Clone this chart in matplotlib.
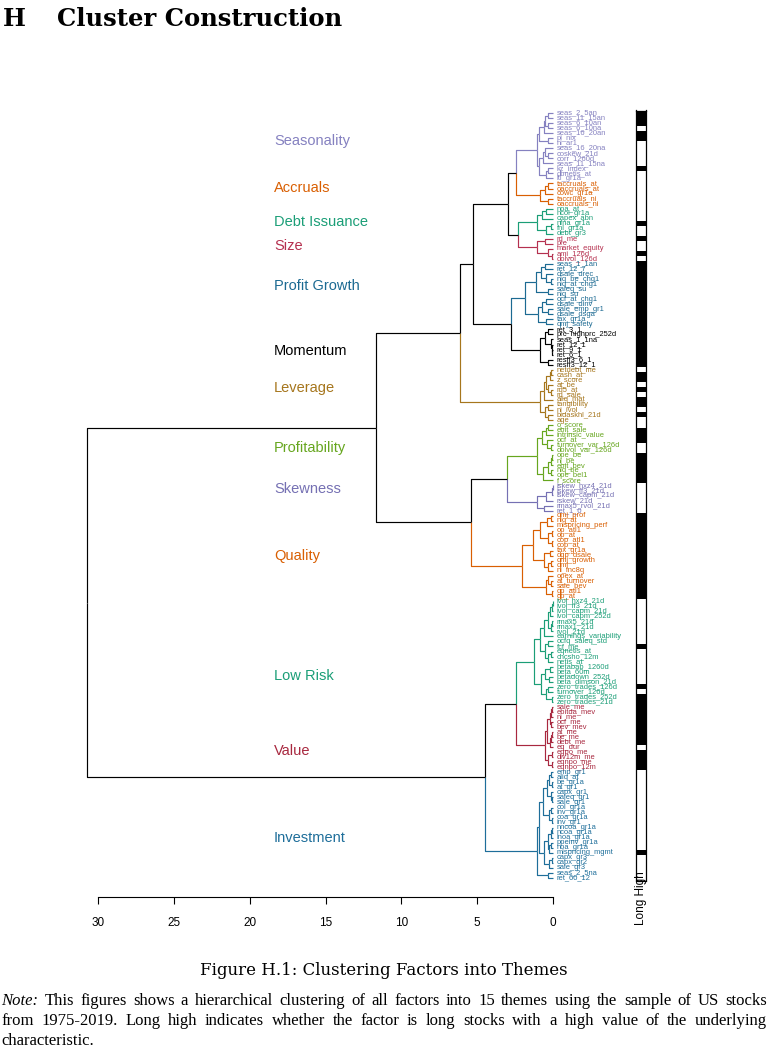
import matplotlib
matplotlib.use("Agg")
import matplotlib.pyplot as plt

plt.rcParams["font.family"] = ["Liberation Sans", "DejaVu Sans"]

# themes, in the order they appear top to bottom
themes = ["Seasonality", "Accruals", "Debt Issuance", "Size", "Profit Growth", "Momentum",
          "Leverage", "Profitability", "Skewness", "Quality", "Low Risk", "Value", "Investment"]
theme_colors = ["#8581c0", "#d95f02", "#1b9e77", "#b5304f", "#1c6a92", "#000000",
                "#a6761d", "#66a61e", "#7570b3", "#d95f02", "#1b9e77", "#a8283f", "#1e6e9a"]

# cluster trees: (merge height, upper, lower), leaves are factor names
seasonality = (1.05,
               (0.95, (0.6, (0.5, (0.35, "seas_2_5an", "seas_11_15an"), (0.3, "seas_6_10an", "seas_6_10na")), "seas_16_20an"),
                (0.35, "pi_nix", "ni_ar1")),
               (0.9, (0.65, (0.55, "seas_16_20na", (0.3, "coskew_21d", "corr_1260d")), "seas_11_15na"),
                (0.45, (0.3, "kz_index", "dbnetis_at"), "lti_gr1a")))
accruals = (0.85, (0.5, (0.3, "taccruals_at", "oaccruals_at"), "cowc_gr1a"), (0.35, "taccruals_ni", "oaccruals_ni"))
debt_issuance = (1.05, (0.7, (0.45, "noa_at", "ncol_gr1a"), "capex_abn"),
                 (0.45, (0.15, "nfna_gr1a", "fnl_gr1a"), "debt_gr3"))
size = (1.05, (0.55, "rd_me", "prc"), (0.3, "market_equity", (0.08, "ami_126d", "dolvol_126d")))
profit_growth = (1.85,
                 (1.1, (0.8, (0.55, "seas_1_1an", "ret_12_7"), (0.45, "dsale_drec", (0.1, "niq_be_chg1", "niq_at_chg1"))),
                  (0.3, "saleq_su", "niq_su")),
                 (1.0, (0.7, (0.45, "ocf_at_chg1", "dsale_dinv"), (0.35, "sale_emp_gr1", "dsale_dsga")),
                  (0.45, "tax_gr1a", "qmj_safety")))
momentum = (0.85,
            (0.55, (0.35, "ret_3_1", "prc_highprc_252d"),
             (0.15, "seas_1_1na", (0.08, "ret_12_1", (0.04, "ret_9_1", "ret_6_1")))),
            (0.35, "resff3_6_1", "resff3_12_1"))
leverage = (0.85,
            (0.6, (0.45, (0.2, (0.1, "netdebt_me", "cash_at"), "z_score"), (0.3, "at_be", (0.15, "rd5_at", "rd_sale"))),
             "aliq_mat"),
            (0.5, (0.35, "tangibility", "ni_ivol"), (0.35, "bidaskhl_21d", "age")))
profitability = (1.07,
                 (0.75, (0.45, (0.3, "o_score", "ebit_sale"), "intrinsic_value"),
                  (0.4, "ocf_at", (0.1, "turnover_var_126d", "dolvol_var_126d"))),
                 (0.65, (0.3, (0.12, (0.05, "ope_be", "ni_be"), "ebit_bev"), (0.1, "niq_be", "ope_bel1")), "f_score"))
skewness = (1.05,
            (0.45, (0.08, (0.03, "iskew_hxz4_21d", "iskew_ff3_21d"), "iskew_capm_21d"), "rskew_21d"),
            (0.6, "rmax5_rvol_21d", "ret_1_0"))
quality = (2.05,
           (1.35,
            (0.85, (0.4, (0.15, "qmj_prof", "niq_at"), "mispricing_perf"),
             (0.3, (0.05, "op_atl1", "op_at"), (0.05, "cop_atl1", "cop_at"))),
            (0.6, (0.2, "tax_gr1a", "dgp_dsale"), (0.35, (0.15, "qmj_growth", "qmj"), "ni_inc8q"))),
           (0.45, (0.3, "opex_at", (0.15, "at_turnover", "sale_bev")), (0.05, "gp_atl1", "gp_at")))
low_risk = (1.25,
            (0.85,
             (0.6, (0.3, (0.2, (0.05, (0.02, "ivol_hxz4_21d", "ivol_ff3_21d"), "ivol_capm_21d"), "ivol_capm_252d"),
                    (0.12, (0.08, "rmax5_21d", "rmax1_21d"), "rvol_21d")), "earnings_variability"),
             (0.5, (0.35, "ocfq_saleq_std", "fcf_me"), (0.3, (0.15, "eqnetis_at", "chcsho_12m"), "netis_at"))),
            (0.8,
             (0.5, (0.2, "betabab_1260d", "beta_60m"), (0.25, "betadown_252d", "beta_dimson_21d")),
             (0.45, (0.3, "zero_trades_126d", "turnover_126d"), (0.05, "zero_trades_252d", "zero_trades_21d"))))
value = (0.55,
         (0.38, (0.2, (0.1, (0.05, "sale_me", "ebitda_mev"), "ni_me"), (0.12, "ocf_me", "bev_mev")),
          (0.2, (0.1, (0.05, "at_me", "be_me"), "debt_me"), "eq_dur")),
         (0.3, (0.08, "eqpo_me", "div12m_me"), (0.05, "eqnpo_me", "eqnpo_12m")))
investment = (1.05,
              (0.95,
               (0.65, (0.4, (0.25, (0.1, "emp_gr1", "aliq_at"), (0.05, "be_gr1a", "at_gr1")),
                       (0.12, "capx_gr1", (0.05, "saleq_gr1", "sale_gr1"))),
                (0.25, (0.1, "col_gr1a", "inv_gr1a"), (0.08, "coa_gr1a", "inv_gr1"))),
               (0.6, (0.35, (0.1, (0.05, "nncoa_gr1a", "ncoa_gr1a"), "lnoa_gr1a"),
                      (0.25, (0.1, "ppeinv_gr1a", "noa_gr1a"), "mispricing_mgmt")),
                (0.25, (0.05, "capx_gr3", "capx_gr2"), "sale_gr3"))),
              (0.3, "seas_2_5na", "ret_60_12"))

# how the themes are joined together
theme_tree = (30.7,
              (11.7,
               (6.1, (5.3, (2.95, (2.45, "Seasonality", "Accruals"), (2.3, "Debt Issuance", "Size")),
                      (2.77, "Profit Growth", "Momentum")), "Leverage"),
               (5.4, (3.05, "Profitability", "Skewness"), "Quality")),
              (4.48, (2.44, "Low Risk", "Value"), "Investment"))

# 1 = long stocks with a high value of the characteristic
long_high = {
    "Seasonality": [1, 1, 1, 0, 1, 1, 0, 0, 0, 0, 0, 1, 0, 0],
    "Accruals": [0, 0, 0, 0, 0],
    "Debt Issuance": [0, 0, 0, 1, 0, 0],
    "Size": [1, 0, 0, 1, 0],
    "Profit Growth": [1] * 13,
    "Momentum": [1] * 8,
    "Leverage": [0, 1, 1, 0, 1, 0, 1, 1, 0, 1, 0],
    "Profitability": [0, 1, 1, 1, 0, 0, 1, 1, 1, 1, 1, 1],
    "Skewness": [0] * 6,
    "Quality": [1] * 17,
    "Low Risk": [0, 0, 0, 0, 0, 0, 0, 0, 0, 1, 0, 0, 0, 0, 0, 0, 0, 1, 0, 1, 1],
    "Value": [1, 1, 1, 1, 1, 1, 1, 1, 0, 1, 1, 1, 1],
    "Investment": [0] * 16 + [1] + [0] * 5,
}

theme_trees = dict(zip(themes, [seasonality, accruals, debt_issuance, size, profit_growth, momentum, leverage,
                                profitability, skewness, quality, low_risk, value, investment]))
theme_color = dict(zip(themes, theme_colors))
# rows (in leaf units) where the theme names sit
theme_label_rows = [5.6, 14.9, 21.7, 26.4, 34.4, 47.3, 54.7, 66.6, 74.8, 88.1, 111.9, 126.8, 144.1]

W, H = 768, 1050
fig = plt.figure(figsize=(W / 100, H / 100), dpi=100)


def fx(px):
    return px / W


def fy(py):
    return 1 - py / H


ax = fig.add_axes([fx(98), fy(880.5), (553 - 98) / W, (880.5 - 110.5) / H])

leaf_names, leaf_cols = [], []


def walk(node, col):
    if isinstance(node, str):
        if node in theme_trees:
            return walk(theme_trees[node], theme_color[node])
        leaf_names.append(node)
        leaf_cols.append(col)
        return len(leaf_names) - 1, 0.0, col
    h, a, b = node
    kids = [walk(a, col), walk(b, col)]
    y = (kids[0][0] + kids[1][0]) / 2
    for yk, hk, ck in kids:
        ax.plot([h, h, hk], [y, yk, yk], color=ck, lw=0.85, solid_capstyle="butt", clip_on=False)
    return y, h, col


walk(theme_tree, "black")
n = len(leaf_names)

for i, (name, c) in enumerate(zip(leaf_names, leaf_cols)):
    ax.text(-0.25, i, name, color=c, fontsize=5.4, va="center", ha="left", clip_on=False)

for t, row in zip(themes, theme_label_rows):
    ax.text(18.4, row, t, color=theme_color[t], fontsize=10.5, va="center", ha="left")

ax.set_xlim(30, 0)
ax.set_ylim(n - 0.5, -0.5)
for s in ["top", "right", "left"]:
    ax.spines[s].set_visible(False)
ax.spines["bottom"].set_position(("outward", 12))
ax.spines["bottom"].set_linewidth(0.8)
ax.set_xticks([30, 25, 20, 15, 10, 5, 0])
ax.tick_params(axis="x", direction="out", length=5, width=0.8, labelsize=8.5, pad=9)
ax.set_yticks([])
ax.patch.set_visible(False)

# long high strip
lh = []
for t in themes:
    lh += long_high[t]
axb = fig.add_axes([fx(636), fy(880.5), 10 / W, (880.5 - 110.5) / H])
axb.barh(range(n), lh, height=1.0, color="black", linewidth=0)
axb.set_xlim(0, 1)
axb.set_ylim(n - 0.5, -0.5)
axb.set_xticks([])
axb.set_yticks([])
for s in axb.spines.values():
    s.set_linewidth(0.9)
fig.text(fx(641), fy(871), "Long High", rotation=90, ha="center", va="top", fontsize=8.5)

# page text
fig.text(fx(3), fy(26), "H", fontsize=17.5, fontweight="bold", family="DejaVu Serif", va="baseline")
fig.text(fx(57), fy(26), "Cluster Construction", fontsize=17.5, fontweight="bold", family="DejaVu Serif",
         va="baseline")
fig.text(fx(384), fy(975), "Figure H.1: Clustering Factors into Themes", fontsize=12,
         family="DejaVu Serif", ha="center", va="baseline")

note_lines = [
    "Note: This figures shows a hierarchical clustering of all factors into 15 themes using the sample of US stocks",
    "from 1975-2019. Long high indicates whether the factor is long stocks with a high value of the underlying",
    "characteristic.",
]
renderer = fig.canvas.get_renderer()
left_px, right_px = 1, 767
for k, line in enumerate(note_lines):
    ybase = fy(1005 + 20 * k)
    words = line.split()
    items = []
    for j, w in enumerate(words):
        style = "italic" if (k == 0 and j == 0) else "normal"
        t = fig.text(0, ybase, w, fontsize=12, family="Liberation Serif", style=style, va="baseline")
        items.append((t, t.get_window_extent(renderer).width))
    total = sum(wd for _, wd in items)
    if k < len(note_lines) - 1:
        gap = (right_px - left_px - total) / (len(items) - 1)
    else:
        gap = 4
    x = left_px
    for t, wd in items:
        t.set_x(x / W)
        x += wd + gap

fig.savefig("out.png", dpi=100)
